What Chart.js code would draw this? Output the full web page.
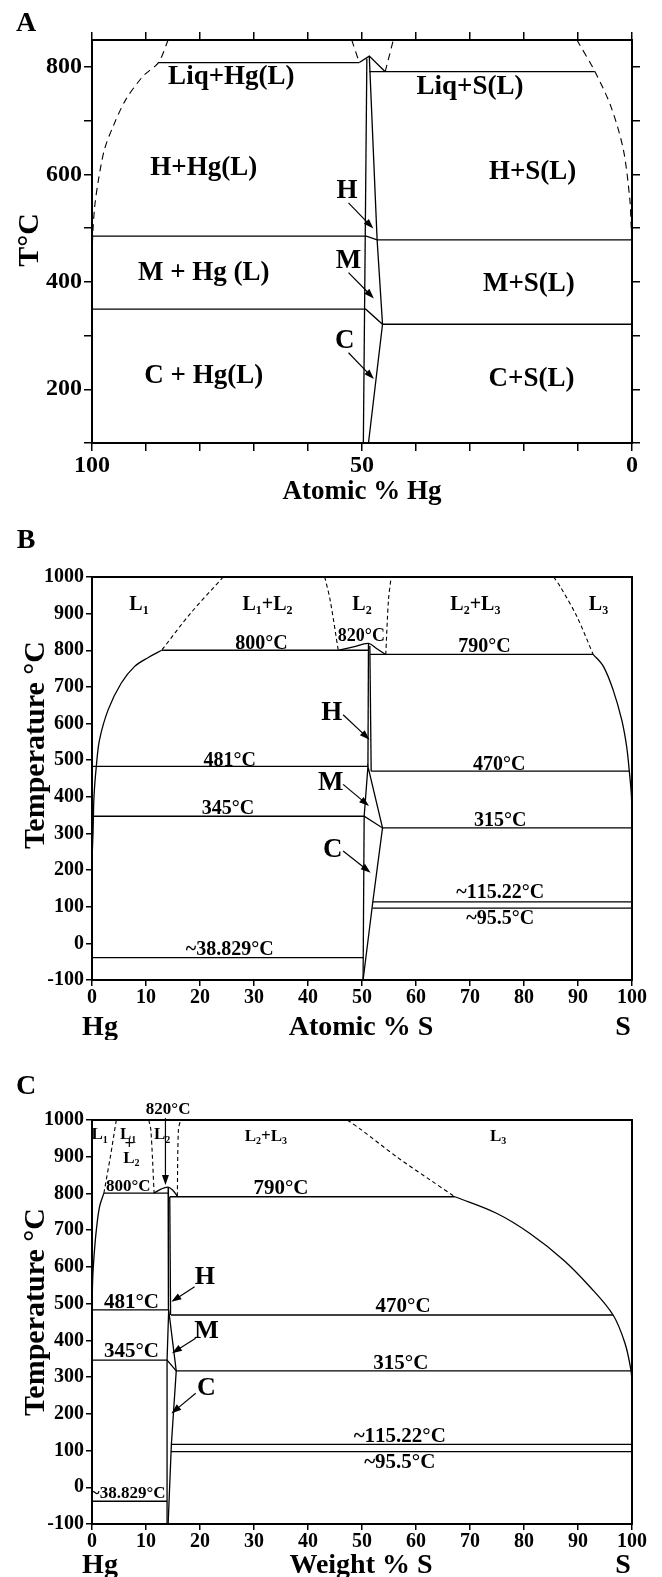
<!DOCTYPE html>
<html>
<head>
<meta charset="utf-8">
<script src="https://cdn.jsdelivr.net/npm/chart.js@4.4.1/dist/chart.umd.min.js"></script>
<style>
  body { margin: 0; background: #fff; }
  canvas { display: block; }
</style>
</head>
<body>
<canvas id="chartA" width="662" height="520"></canvas>
<canvas id="chartB" width="662" height="520"></canvas>
<canvas id="chartC" width="662" height="537"></canvas>
<script>
// ---------- panel A : T (°C) vs atomic % Hg ----------
const aTickX = [100, 50, 0]
const aTickY = [200, 400, 600, 800]
const aLiqHg = [[87.7, 808], [50.5, 808]]
const aPeak = [[50.5, 808], [48.65, 820], [45.7, 791]]
const aLiqS = [[48.65, 791], [6.9, 791]]
const aLeftEdge = [[49.1, 815], [49.75, 100]]
const aRightEdge = [[48.65, 820], [47.2, 478], [46.2, 321], [48.8, 100]]
const aLine481 = [[100, 485], [49.2, 485], [47.2, 478], [0, 478]]
const aLine345 = [[100, 349], [49.3, 349], [46.2, 321], [0, 321]]
const aDashLeft = [[85.9, 850], [87.7, 808], [90.6, 782], [93.75, 739], [96.1, 689], [97.7, 646], [98.8, 590], [99.5, 540], [99.85, 491], [100, 440]]
const aDashMid1 = [[51.9, 850], [50.5, 808]]
const aDashMid2 = [[45.7, 791], [44.2, 850]]
const aDashRight = [[10.2, 850], [6.9, 792], [3.9, 726], [1.6, 646], [0.4, 553], [0.15, 503], [0, 478]]
const aRegions = [
    ['Liq+Hg(L)', 74.2, 782], ['Liq+S(L)', 30, 763],
    ['H+Hg(L)', 79.3, 612], ['H+S(L)', 18.4, 605],
    ['M + Hg (L)', 79.3, 417], ['M+S(L)', 19.1, 395],
    ['C + Hg(L)', 79.3, 225], ['C+S(L)', 18.6, 219],
    ['H', 52.8, 568], ['M', 52.5, 438], ['C', 53.2, 290]
]
const aArrows = [[52.5, 547, 47.9, 499], [52.5, 417, 47.8, 369], [52.5, 268, 47.8, 219]]

// ---------- panel B : temperature vs atomic % S ----------
const bTickX = [0, 10, 20, 30, 40, 50, 60, 70, 80, 90, 100]
const bTickY = [-100, 0, 100, 200, 300, 400, 500, 600, 700, 800, 900, 1000]
const bL1Curve = [[0, 230], [0.19, 302], [0.37, 401], [0.8, 483], [1.4, 556], [3.0, 638], [5.4, 710], [7.9, 756], [10.5, 781], [12.9, 800]]
const bLine800 = [[12.9, 800], [51.3, 800]]
const bPeak = [[45.6, 800], [48.4, 809], [51.2, 819], [52.7, 805], [54.4, 788]]
const bLine790 = [[51.5, 789], [92.8, 789]]
const bDash1 = [[24.3, 1000], [18.2, 900], [12.9, 800]]
const bDash2 = [[43.1, 1000], [44.1, 937], [45.6, 800]]
const bDash3 = [[54.4, 788], [54.9, 937], [55.4, 1000]]
const bDash4 = [[85.5, 1000], [86.7, 974], [89.8, 892], [92.8, 789]]
const bL3Curve = [[92.8, 789], [94.7, 756], [96.5, 692], [98.1, 610], [99.0, 538], [99.5, 470], [99.9, 401], [100, 312]]
const bLine481 = [[0, 483], [51.1, 483]]
const bLine470 = [[51.7, 470], [99.5, 470]]
const bHLeft = [[51.2, 819], [51.1, 483]]
const bHRight = [[51.45, 812], [51.7, 470]]
const bM = [[50.4, 347], [51.1, 483], [53.8, 315]]
const bLine345 = [[0, 347], [50.4, 347], [53.8, 315], [100, 315]]
const bCRight = [[53.8, 315], [52.0, 113], [50.2, -100]]
const bCLeft = [[50.4, 347], [50.2, -100]]
const bLine115 = [[52.0, 113], [100, 113]]
const bLine95 = [[51.9, 96], [100, 96]]
const bLine38 = [[0, -39], [50.2, -39]]
const bLiquids = [['L_1', 8.7, 924], ['L_1+L_2', 32.5, 924], ['L_2', 50, 924], ['L_2+L_3', 71, 924], ['L_3', 93.8, 924]]
const bTemps = [
    ['800°C', 31.4, 818], ['790°C', 72.7, 809], ['481°C', 25.5, 499], ['470°C', 75.4, 488],
    ['345°C', 25.2, 367], ['315°C', 75.6, 334], ['~115.22°C', 75.6, 138], ['~95.5°C', 75.6, 67],
    ['~38.829°C', 25.5, -19]
]
const bPeakText = [['820°C', 49.9, 837]]
const bPhases = [['H', 44.4, 629], ['M', 44.2, 438], ['C', 44.6, 256]]
const bArrows = [[46.5, 624, 51.4, 556], [46.5, 434, 51.3, 375], [46.5, 252, 51.6, 193]]

// ---------- panel C : temperature vs weight % S ----------
const cL1Curve = [[0, 470], [0.12, 564], [0.37, 628], [0.8, 700], [1.4, 764], [2.2, 801]]
const cDash1 = [[2.2, 801], [3.4, 900], [4.5, 1000]]
const cLine800 = [[2.2, 801], [14.1, 801]]
const cDash2 = [[10.5, 1000], [10.9, 973], [11.5, 801]]
const cPeak = [[11.5, 801], [12.8, 812], [14.1, 817], [15.0, 808], [15.8, 793]]
const cDash3 = [[15.8, 793], [16.0, 973], [16.4, 1000]]
const cLine790 = [[14.4, 791], [67.2, 791]]
const cDash4 = [[47.3, 1000], [49.9, 973], [56.4, 900], [62.6, 837], [67.2, 791]]
const cL3Curve = [[67.2, 791], [74.9, 746], [81.1, 691], [87.3, 619], [92.2, 546], [96.5, 469], [98.7, 392], [99.8, 319], [100, 285]]
const cLine481 = [[0, 483], [14.2, 483]]
const cLine470 = [[14.6, 469], [96.5, 469]]
const cHLeft = [[14.1, 817], [14.15, 483]]
const cHRight = [[14.4, 791], [14.55, 469]]
const cM = [[13.9, 346], [14.2, 483], [15.6, 317]]
const cLine345 = [[0, 346], [13.9, 346], [15.6, 317], [100, 317]]
const cCRight = [[15.6, 317], [14.7, 117], [14.1, -100]]
const cCLeft = [[13.9, 346], [13.9, -100]]
const cLine115 = [[14.7, 117], [100, 117]]
const cLine95 = [[14.6, 97], [100, 97]]
const cLine38 = [[0, -38], [13.9, -38]]
const cLiquids = [['L_1', 1.4, 959], ['L_1', 6.7, 959], ['+', 6.9, 932], ['L_2', 7.3, 896], ['L_2', 13.0, 959], ['L_2+L_3', 32.2, 956], ['L_3', 75.2, 956]]
const cTemps = [
    ['790°C', 35, 813], ['481°C', 7.3, 502], ['470°C', 57.6, 491], ['345°C', 7.3, 369],
    ['315°C', 57.2, 338], ['~115.22°C', 57, 139], ['~95.5°C', 57, 68]
]
const cSmallTemps = [['800°C', 6.7, 818], ['~38.829°C', 6.7, -18], ['820°C', 14.1, 1027]]
const cPhases = [['H', 20.9, 573], ['M', 21.2, 424], ['C', 21.2, 270]]
const cArrows = [[19, 546, 14.7, 505], [19.2, 406, 14.8, 365], [19.2, 256, 14.7, 201], [13.6, 1005, 13.6, 823]]

const FONT = '"Liberation Serif", "Times New Roman", serif'

function richText(ctx, str, x, y, size) {
    const parts = []
    for (let i = 0; i < str.length; i++) {
        if (str[i] === '_') { parts.push([str[i + 1], true]); i++ }
        else parts.push([str[i], false])
    }
    const big = `bold ${size}px ${FONT}`
    const small = `bold ${Math.round(size * 0.6)}px ${FONT}`
    let w = 0
    parts.forEach(p => { ctx.font = p[1] ? small : big; p.push(ctx.measureText(p[0]).width); w += p[2] })
    let cx = x - w / 2
    ctx.textAlign = 'left'
    ctx.textBaseline = 'middle'
    parts.forEach(([c, sub, pw]) => {
        ctx.font = sub ? small : big
        ctx.fillText(c, cx, sub ? y + size * 0.3 : y)
        cx += pw
    })
}

function arrow(ctx, x1, y1, x2, y2) {
    const a = Math.atan2(y2 - y1, x2 - x1)
    ctx.beginPath()
    ctx.moveTo(x1, y1)
    ctx.lineTo(x2 - 8 * Math.cos(a), y2 - 8 * Math.sin(a))
    ctx.stroke()
    ctx.beginPath()
    ctx.moveTo(x2, y2)
    ctx.lineTo(x2 - 10 * Math.cos(a) + 3.5 * Math.sin(a), y2 - 10 * Math.sin(a) - 3.5 * Math.cos(a))
    ctx.lineTo(x2 - 10 * Math.cos(a) - 3.5 * Math.sin(a), y2 - 10 * Math.sin(a) + 3.5 * Math.cos(a))
    ctx.closePath()
    ctx.fill()
}

function plainText(ctx, t, x, y, size, rotate) {
    ctx.save()
    ctx.translate(x, y)
    if (rotate) ctx.rotate(-Math.PI / 2)
    ctx.font = `bold ${size}px ${FONT}`
    ctx.textAlign = 'center'
    ctx.textBaseline = 'middle'
    ctx.fillText(t, 0, 0)
    ctx.restore()
}

function line(pts, dash, tension) {
    return {
        data: pts.map(([x, y]) => ({ x, y })),
        showLine: true,
        borderColor: '#000',
        borderWidth: dash ? 1.1 : 1.3,
        borderDash: dash || [],
        pointRadius: 0,
        tension: tension || 0,
        fill: false
    }
}

function decor(panel) {
    return {
        id: 'decor',
        afterDraw(chart) {
            const { ctx, chartArea: ca, scales } = chart
            const sx = v => scales.x.getPixelForValue(v)
            const sy = v => scales.y.getPixelForValue(v)
            ctx.save()
            ctx.strokeStyle = '#000'
            ctx.fillStyle = '#000'
            ctx.lineWidth = 2
            ctx.strokeRect(ca.left, ca.top, ca.right - ca.left, ca.bottom - ca.top)
            panel.texts.forEach(([list, size]) => list.forEach(([t, x, y]) => richText(ctx, t, sx(x), sy(y), size)))
            ctx.lineWidth = 1.2
            panel.arrows.forEach(([x1, y1, x2, y2]) => arrow(ctx, sx(x1), sy(y1), sx(x2), sy(y2)))
            panel.free.forEach(([t, x, y, size, rot]) => plainText(ctx, t, x, y, size, rot))
            ctx.restore()
        }
    }
}

function tickFont(size) {
    return { family: FONT, size: size, weight: 'bold' }
}

function makePanel(el, panel) {
    const scales = {
        x: {
            type: 'linear', position: 'bottom', min: 0, max: 100, reverse: !!panel.reverse,
            ticks: {
                stepSize: 10, autoSkip: false, maxRotation: 0, padding: 0, color: '#000',
                font: tickFont(panel.tickSize), callback: v => panel.tickX.includes(v) ? v : ''
            },
            grid: { drawOnChartArea: false, tickLength: panel.tickLen, color: '#000', tickColor: '#000', lineWidth: 1.5 },
            border: { color: '#000', width: 2 },
            afterFit: s => { s.height = panel.bottomH }
        },
        y: {
            type: 'linear', position: 'left', min: panel.yMin, max: panel.yMax,
            ticks: {
                stepSize: 100, includeBounds: false, autoSkip: false, padding: 2, color: '#000',
                font: tickFont(panel.tickSize), callback: v => panel.tickY.includes(v) ? v : ''
            },
            grid: { drawOnChartArea: false, tickLength: panel.tickLen, color: '#000', tickColor: '#000', lineWidth: 1.5 },
            border: { color: '#000', width: 2 },
            afterFit: s => { s.width = 92 }
        }
    }
    if (panel.mirror) {
        scales.x2 = {
            type: 'linear', position: 'top', min: 0, max: 100, reverse: !!panel.reverse,
            ticks: { stepSize: 10, display: false },
            grid: { drawOnChartArea: false, tickLength: 8, color: '#000', tickColor: '#000', lineWidth: 1.5 },
            border: { color: '#000', width: 2 },
            afterFit: s => { s.height = 40 }
        }
        scales.y2 = {
            type: 'linear', position: 'right', min: panel.yMin, max: panel.yMax,
            ticks: { stepSize: 100, includeBounds: false, display: false },
            grid: { drawOnChartArea: false, tickLength: 8, color: '#000', tickColor: '#000', lineWidth: 1.5 },
            border: { color: '#000', width: 2 },
            afterFit: s => { s.width = 30 }
        }
    }
    new Chart(el, {
        type: 'scatter',
        data: {
            datasets: [
                ...panel.solid.map(p => line(p)),
                ...panel.curves.map(p => line(p, null, 0.35)),
                ...panel.dashed.map(p => line(p, panel.dash, 0.3))
            ]
        },
        options: {
            responsive: false,
            animation: false,
            layout: { padding: panel.padding },
            plugins: { legend: { display: false }, tooltip: { enabled: false } },
            scales: scales
        },
        plugins: [decor(panel)]
    })
}

makePanel(document.querySelector('#chartA'), {
    reverse: true, mirror: true, yMin: 100, yMax: 850,
    tickX: aTickX, tickY: aTickY, tickSize: 24, tickLen: 8, bottomH: 77,
    padding: { left: 0, right: 0, top: 0, bottom: 0 },
    solid: [aLiqHg, aPeak, aLiqS, aLeftEdge, aRightEdge, aLine481, aLine345],
    curves: [],
    dashed: [aDashLeft, aDashMid1, aDashMid2, aDashRight], dash: [7, 5],
    texts: [[aRegions, 27]],
    arrows: aArrows,
    free: [['A', 26, 24, 28], ['T°C', 30, 240, 30, true], ['Atomic % Hg', 362, 492, 27]]
})

makePanel(document.querySelector('#chartB'), {
    yMin: -100, yMax: 1000,
    tickX: bTickX, tickY: bTickY, tickSize: 20, tickLen: 6, bottomH: 60,
    padding: { left: 0, right: 30, top: 57, bottom: 0 },
    solid: [bLine800, bLine790, bLine481, bLine470, bHLeft, bHRight, bM, bLine345, bCRight, bCLeft, bLine115, bLine95, bLine38],
    curves: [bL1Curve, bPeak, bL3Curve],
    dashed: [bDash1, bDash2, bDash3, bDash4], dash: [4, 3],
    texts: [[bLiquids, 20], [bTemps, 20], [bPeakText, 18], [bPhases, 27]],
    arrows: bArrows,
    free: [['B', 26, 21, 28], ['Temperature °C', 36, 225, 30, true], ['Hg', 100, 508, 28], ['Atomic % S', 361, 508, 28], ['S', 623, 508, 28]]
})

makePanel(document.querySelector('#chartC'), {
    yMin: -100, yMax: 1000,
    tickX: bTickX, tickY: bTickY, tickSize: 20, tickLen: 6, bottomH: 53,
    padding: { left: 0, right: 30, top: 80, bottom: 0 },
    solid: [cLine800, cLine790, cLine481, cLine470, cHLeft, cHRight, cM, cLine345, cCRight, cCLeft, cLine115, cLine95, cLine38],
    curves: [cL1Curve, cPeak, cL3Curve],
    dashed: [cDash1, cDash2, cDash3, cDash4], dash: [4, 3],
    texts: [[cLiquids, 17], [cTemps, 21], [cSmallTemps, 17], [cPhases, 26]],
    arrows: cArrows,
    free: [['C', 26, 47, 28], ['Temperature °C', 36, 272, 30, true], ['Hg', 100, 526, 28], ['Weight % S', 361, 526, 28], ['S', 623, 526, 28]]
})
</script>
</body>
</html>
